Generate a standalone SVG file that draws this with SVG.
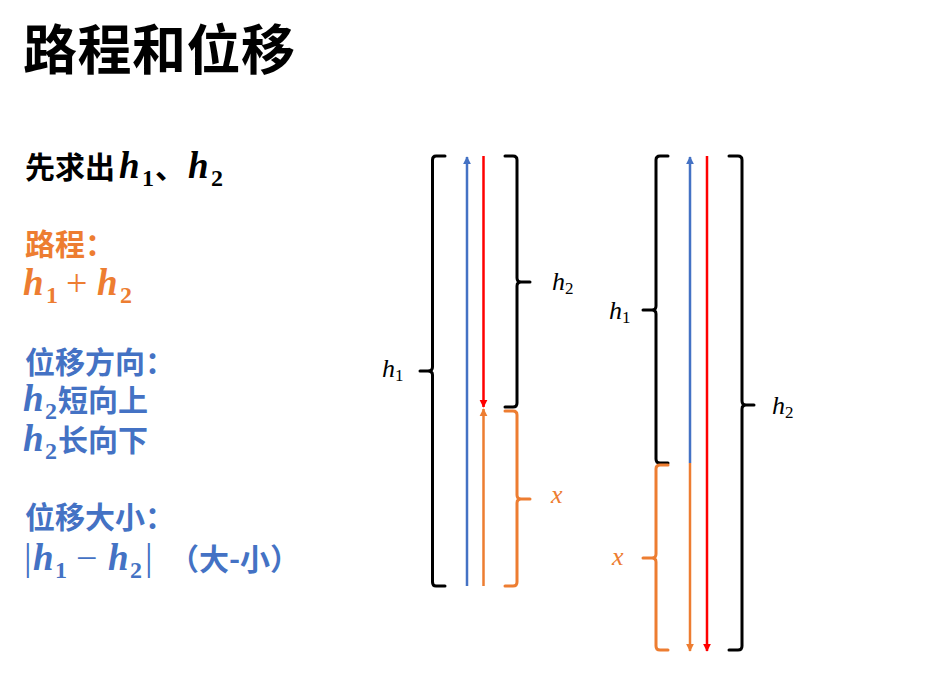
<svg xmlns="http://www.w3.org/2000/svg" width="927" height="677" viewBox="0 0 927 677">
<style>
.cjk{font-family:"Noto Sans CJK SC","Noto Sans",sans-serif;font-weight:bold}
.m{font-family:"Liberation Serif",serif;font-style:italic;font-weight:bold;font-size:37px}
.op{font-family:"Liberation Serif",serif;font-size:38px}
.sub{font-family:"Liberation Serif",serif;font-style:normal;font-weight:bold;font-size:24px}
.lab{font-family:"Liberation Serif",serif;font-style:italic;font-size:26px}
.lsub{font-family:"Liberation Serif",serif;font-style:normal;font-size:17px}
.br{fill:none;stroke-width:3;stroke-linecap:round;stroke-linejoin:round}
.ar{fill:none;stroke-width:2.5}
.k{stroke:#000}
.o{stroke:#ED7D31}
.b{stroke:#4472C4}
.r{stroke:#FF0000}
</style>
<defs>
<marker id="mb" viewBox="0 0 10 10" refX="9" refY="5" markerWidth="8" markerHeight="10" markerUnits="userSpaceOnUse" orient="auto"><path d="M0,0 L10,5 L0,10 Z" fill="#4472C4"/></marker>
<marker id="mr" viewBox="0 0 10 10" refX="9" refY="5" markerWidth="8" markerHeight="10" markerUnits="userSpaceOnUse" orient="auto"><path d="M0,0 L10,5 L0,10 Z" fill="#FF0000"/></marker>
<marker id="mo" viewBox="0 0 10 10" refX="9" refY="5" markerWidth="8" markerHeight="10" markerUnits="userSpaceOnUse" orient="auto"><path d="M0,0 L10,5 L0,10 Z" fill="#ED7D31"/></marker>
</defs>
<rect width="927" height="677" fill="#fff"/>

<g id="title">
<text class="cjk" x="23" y="70" font-size="54" fill="#000" letter-spacing="0.5">路程和位移</text>
</g>

<g id="notes" font-size="30">
<text class="cjk" x="25" y="178" fill="#000">先求出</text>
<text class="m" x="119" y="178" fill="#000">h</text>
<text class="sub" x="142" y="186" fill="#000">1</text>
<text class="cjk" x="155" y="178" fill="#000">、</text>
<text class="m" x="188" y="178" fill="#000">h</text>
<text class="sub" x="211" y="186" fill="#000">2</text>

<text class="cjk" x="25" y="255" fill="#ED7D31">路程：</text>
<text class="m" x="23" y="295" fill="#ED7D31">h</text>
<text class="sub" x="46" y="303" fill="#ED7D31">1</text>
<text class="op" x="66" y="296" fill="#ED7D31">+</text>
<text class="m" x="97" y="295" fill="#ED7D31">h</text>
<text class="sub" x="120" y="303" fill="#ED7D31">2</text>

<text class="cjk" x="25" y="373" fill="#4472C4">位移方向：</text>
<text class="m" x="23" y="411" fill="#4472C4">h</text>
<text class="sub" x="45" y="419" fill="#4472C4">2</text>
<text class="cjk" x="58" y="411" fill="#4472C4">短向上</text>
<text class="m" x="23" y="451" fill="#4472C4">h</text>
<text class="sub" x="45" y="459" fill="#4472C4">2</text>
<text class="cjk" x="58" y="451" fill="#4472C4">长向下</text>

<text class="cjk" x="25" y="528" fill="#4472C4">位移大小：</text>
<text class="op" x="24" y="570" fill="#4472C4">|</text>
<text class="m" x="33" y="570" fill="#4472C4">h</text>
<text class="sub" x="55" y="578" fill="#4472C4">1</text>
<text class="op" x="76" y="571" fill="#4472C4">−</text>
<text class="m" x="108" y="570" fill="#4472C4">h</text>
<text class="sub" x="130" y="578" fill="#4472C4">2</text>
<text class="op" x="145" y="570" fill="#4472C4">|</text>
<text class="cjk" x="169" y="570" fill="#4472C4">（大-小）</text>
</g>

<!-- left diagram -->
<g id="L-h1">
<path class="br k" d="M445,156 L436,156 Q432.5,156 432.5,160 L432.5,367 Q432.5,371 428,371 L420,371 M428,371 Q432.5,371 432.5,375 L432.5,582 Q432.5,586 436,586 L445,586"/>
<text class="lab" x="382" y="377">h<tspan class="lsub" dy="4">1</tspan></text>
</g>
<g id="L-h2">
<path class="br k" d="M505,156 L513,156 Q517,156 517,160 L517,278 Q517,282 521,282 L530,282 M521,282 Q517,282 517,286 L517,403 Q517,407 513,407 L505,407"/>
<text class="lab" x="552" y="290">h<tspan class="lsub" dy="4">2</tspan></text>
</g>
<g id="L-x">
<path class="br o" d="M505,411 L513,411 Q517,411 517,415 L517,495 Q517,499 521,499 L530,499 M521,499 Q517,499 517,503 L517,582 Q517,586 513,586 L505,586"/>
<text class="lab" x="551" y="503" fill="#ED7D31">x</text>
</g>

<!-- right diagram -->
<g id="R-h1">
<path class="br k" d="M668,156 L660,156 Q656,156 656,160 L656,306 Q656,310 652,310 L643,310 M652,310 Q656,310 656,314 L656,459 Q656,463 660,463 L668,463"/>
<text class="lab" x="609" y="319">h<tspan class="lsub" dy="4">1</tspan></text>
</g>
<g id="R-x">
<path class="br o" d="M668,465 L660,465 Q656,465 656,469 L656,554 Q656,558 652,558 L643,558 M652,558 Q656,558 656,562 L656,646 Q656,650 660,650 L668,650"/>
<text class="lab" x="612" y="565" fill="#ED7D31">x</text>
</g>
<g id="R-h2">
<path class="br k" d="M729,156 L738,156 Q742,156 742,160 L742,401 Q742,405 746,405 L754,405 M746,405 Q742,405 742,409 L742,646 Q742,650 738,650 L729,650"/>
<text class="lab" x="772" y="414">h<tspan class="lsub" dy="4">2</tspan></text>
</g>

<g id="connectors">
<line class="ar b" x1="467" y1="586" x2="467" y2="157" marker-end="url(#mb)"/>
<line class="ar r" x1="483.5" y1="156" x2="483.5" y2="407" marker-end="url(#mr)"/>
<line class="ar o" x1="483.5" y1="586" x2="483.5" y2="409" marker-end="url(#mo)"/>
<line class="ar b" x1="690" y1="463" x2="690" y2="157" marker-end="url(#mb)"/>
<line class="ar o" x1="690" y1="463" x2="690" y2="651" marker-end="url(#mo)"/>
<line class="ar r" x1="707" y1="156" x2="707" y2="651" marker-end="url(#mr)"/>
</g>
</svg>
